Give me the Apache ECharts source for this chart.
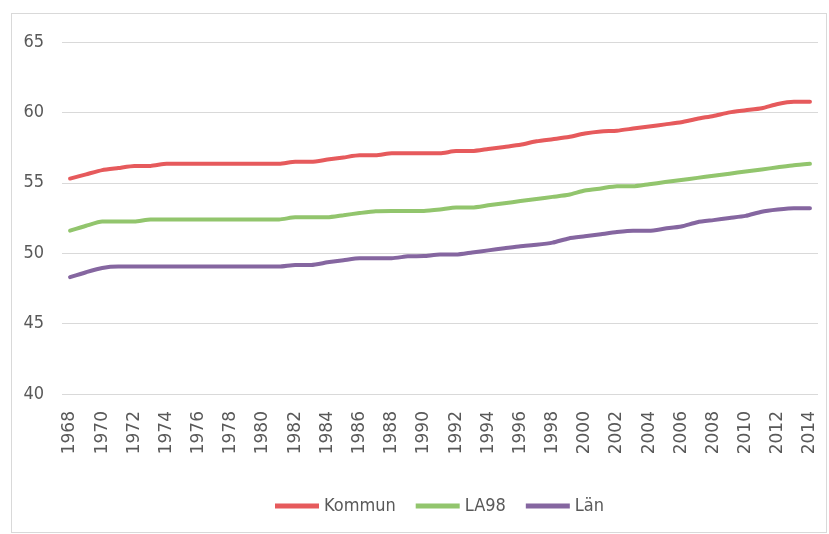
<!DOCTYPE html>
<html>
<head>
<meta charset="utf-8">
<script src="https://cdn.jsdelivr.net/npm/echarts@6/dist/echarts.min.js"></script>
<style>
  html, body { margin: 0; padding: 0; background: #fff; }
  #frame { position: absolute; left: 11px; top: 13px; width: 814px; height: 518px; border: 1px solid #d9d9d9; }
  #chart { position: absolute; left: 0; top: 0; width: 829px; height: 534px; }
</style>
</head>
<body>
<div id="frame"></div>
<div id="chart"></div>
<script>
var years = []
for (var y = 1968; y <= 2014; y++) years.push(String(y))

var kommun = [55.3, 55.6, 55.9, 56.05, 56.2, 56.2, 56.35, 56.35, 56.35, 56.35, 56.35, 56.35, 56.35, 56.35,
  56.5, 56.5, 56.65, 56.8, 56.95, 56.95, 57.1, 57.1, 57.1, 57.1, 57.25, 57.25, 57.4, 57.55, 57.7, 57.95,
  58.1, 58.25, 58.5, 58.65, 58.7, 58.85, 59.0, 59.15, 59.3, 59.55, 59.75, 60.0, 60.15, 60.3, 60.6, 60.75, 60.75]

var la98 = [51.6, 51.95, 52.25, 52.25, 52.25, 52.4, 52.4, 52.4, 52.4, 52.4, 52.4, 52.4, 52.4, 52.4,
  52.55, 52.55, 52.55, 52.7, 52.85, 52.98, 53.0, 53.0, 53.0, 53.1, 53.25, 53.25, 53.4, 53.55, 53.7, 53.85,
  54.0, 54.15, 54.45, 54.6, 54.75, 54.75, 54.9, 55.05, 55.2, 55.35, 55.5, 55.65, 55.8, 55.95, 56.1, 56.25, 56.35]

var lan = [48.3, 48.65, 48.95, 49.05, 49.05, 49.05, 49.05, 49.05, 49.05, 49.05, 49.05, 49.05, 49.05, 49.05,
  49.17, 49.17, 49.35, 49.5, 49.64, 49.64, 49.64, 49.78, 49.8, 49.9, 49.9, 50.05, 50.2, 50.35, 50.5, 50.6,
  50.75, 51.05, 51.2, 51.35, 51.5, 51.6, 51.6, 51.75, 51.9, 52.2, 52.35, 52.5, 52.65, 52.95, 53.1, 53.2, 53.2]

var seriesNames = ['Kommun', 'LA98', 'Län']
var colors = ['#e65a5c', '#92c56d', '#8566a0']

var narrow = "'Liberation Sans Narrow', 'DejaVu Sans Condensed', sans-serif"

var myChart = echarts.init(document.getElementById('chart'))

var mySeries = [kommun, la98, lan].map(function (d, i) {
  return {
    name: seriesNames[i],
    type: 'line',
    data: d,
    showSymbol: false,
    smooth: 0.2,
    lineStyle: { width: 4, color: colors[i], cap: 'round' },
    itemStyle: { color: colors[i] }
  }
})

var option = {
  animation: false,
  grid: { left: 62, right: 11, top: 42, bottom: 140 },
  legend: {
    left: 270,
    top: 492,
    icon: 'rect',
    itemWidth: 44,
    itemHeight: 5,
    itemGap: 20,
    textStyle: { fontFamily: narrow, fontSize: 18, color: '#595959' },
    data: seriesNames
  },
  xAxis: {
    type: 'category',
    data: years,
    boundaryGap: true,
    axisLine: { show: false },
    axisTick: { show: false },
    axisLabel: {
      interval: 1,
      rotate: 90,
      margin: 17,
      fontFamily: 'DejaVu Sans',
      fontSize: 17,
      color: '#595959'
    }
  },
  yAxis: {
    type: 'value',
    min: 40,
    max: 65,
    interval: 5,
    axisLine: { show: false },
    axisTick: { show: false },
    splitLine: { lineStyle: { color: '#d9d9d9', width: 1 } },
    axisLabel: { fontFamily: narrow, fontSize: 18, color: '#595959', margin: 18 }
  },
  series: mySeries
}

option && myChart.setOption(option)
</script>
</body>
</html>
